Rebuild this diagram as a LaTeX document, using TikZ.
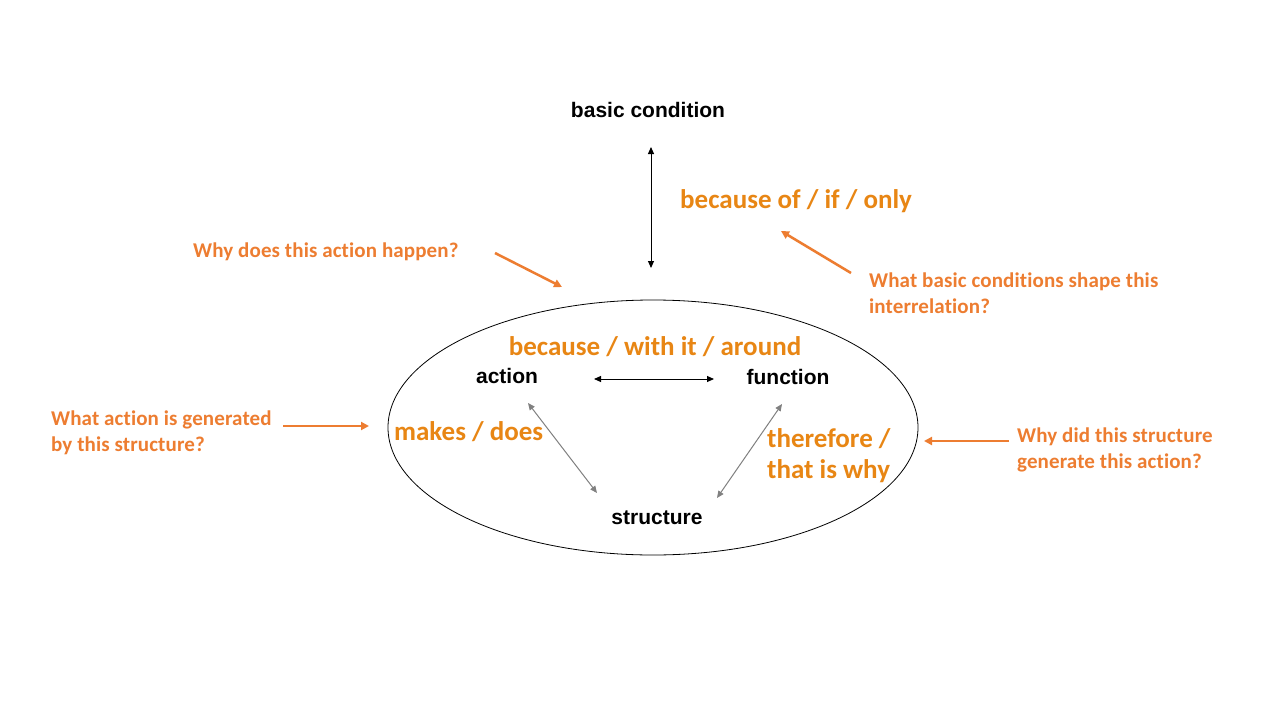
\documentclass[tikz,border=0pt]{standalone}
\usepackage{fontspec}
\usetikzlibrary{arrows.meta,shapes.geometric}
\newfontfamily\arialfont{Liberation Sans}
\newfontfamily\califont{Carlito}[Ligatures=NoCommon]
\newfontfamily\califontsp{Carlito}[LetterSpace=0.6,Ligatures=NoCommon]
\definecolor{qorange}{RGB}{237,125,49}
\definecolor{lorange}{RGB}{232,134,20}
\definecolor{arrgray}{RGB}{128,128,128}
\tikzset{
  term/.style={font=\arialfont\bfseries\fontsize{21}{25}\selectfont, text=black, inner sep=0pt},
  biglabel/.style={font=\califont\bfseries\fontsize{27}{31}\selectfont, text=lorange, inner sep=0pt, align=left},
  question/.style={font=\califontsp\bfseries\fontsize{21}{26}\selectfont, text=qorange, inner sep=0pt, align=left},
  blackarrow/.style={draw=black, line width=1pt, {Triangle[length=7pt,width=6pt]}-{Triangle[length=7pt,width=6pt]}},
  grayarrow/.style={draw=arrgray, line width=1pt, {Triangle[length=7pt,width=6pt]}-{Triangle[length=7pt,width=6pt]}},
  qarrow/.style={draw=qorange, line width=2.5pt, -{Triangle[length=8pt,width=8pt]}},
}
\begin{document}
\begin{tikzpicture}[x=1pt,y=-1pt]
\useasboundingbox (0,0) rectangle (1280,720);
\fill[white] (0,0) rectangle (1280,720);
% ellipse
\node[draw=black, line width=0.8pt, ellipse, minimum width=530pt, minimum height=255pt, inner sep=0pt] (ell) at (653,427.5) {};
% terms
\node[term] (basic) at (648,110) {basic condition};
\node[term] (action) at (507,375.5) {action};
\node[term] (function) at (788,376.5) {function};
\node[term] (structure) at (657,517.5) {structure};
% big labels
\node[biglabel, anchor=west] (bof) at (680,201.5) {because of / if / only};
\node[biglabel] (bwith) at (655,347) {because / with it / around};
\node[biglabel, anchor=west] (makes) at (394,432) {makes / does};
\node[biglabel, anchor=west] (therefore) at (767,456) {therefore /\\that is why};
% questions
\node[question, anchor=west] (qwhy) at (193,251.5) {Why does this action happen?};
\node[question, anchor=west] (qbasic) at (869,293.5) {What basic conditions shape this\\interrelation?};
\node[question, anchor=west] (qaction) at (51,432.5) {What action is generated\\by this structure?};
\node[question, anchor=west] (qstruct) at (1017,449.5) {Why did this structure\\generate this action?};
% connector endpoints
\coordinate (vtop) at (651,147);
\coordinate (vbot) at (651,268);
\coordinate (hl) at (594,379);
\coordinate (hr) at (714,379);
\coordinate (gal) at (528,403);
\coordinate (gar) at (597,493);
\coordinate (gfl) at (782,404);
\coordinate (gfr) at (717,498);
\coordinate (a1s) at (495,253);
\coordinate (a1e) at (562,287);
\coordinate (a2s) at (851,273);
\coordinate (a2e) at (781,231);
\coordinate (a3s) at (283,426);
\coordinate (a3e) at (369,426);
\coordinate (a4s) at (1009,441);
\coordinate (a4e) at (924,441);
% connectors
\draw[blackarrow] (vtop) -- (vbot);
\draw[blackarrow] (hl) -- (hr);
\draw[grayarrow] (gal) -- (gar);
\draw[grayarrow] (gfl) -- (gfr);
\draw[qarrow] (a1s) -- (a1e);
\draw[qarrow] (a2s) -- (a2e);
\draw[qarrow] (a3s) -- (a3e);
\draw[qarrow] (a4s) -- (a4e);
\end{tikzpicture}
\end{document}
